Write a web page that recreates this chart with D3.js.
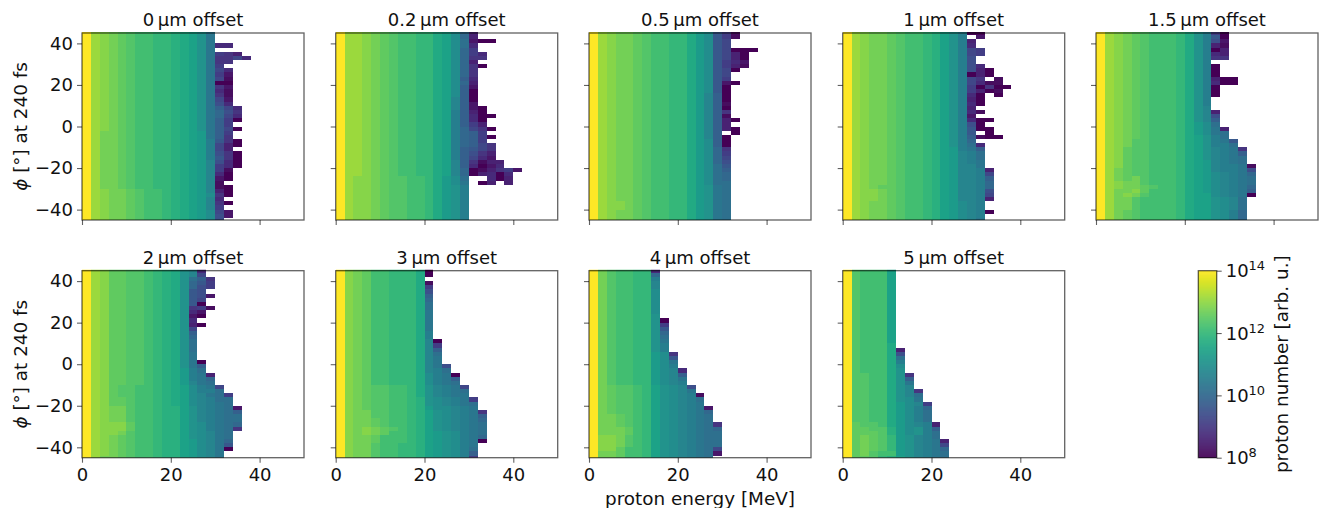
<!DOCTYPE html>
<html><head><meta charset="utf-8">
<script src="https://cdn.jsdelivr.net/npm/d3@7"></script>
<style>html,body{margin:0;background:#fff}svg{display:block}text{font-family:"DejaVu Sans";fill:#111}</style>
</head><body><svg id="c" width="1319" height="508"></svg>
<script>
// Offsets (panel titles)
const offsets = ["0","0.2","0.5","1","1.5","2","3","4","5"];
const xTicks = [0,20,40];
const yTicks = [40,20,0,-20,-40];
const cbTicks = [1e8,1e10,1e12,1e14];
const cbExp = {1e8:"8",1e10:"10",1e12:"12",1e14:"14"};
// Each string is one 2° row (top to bottom); each char one 2 MeV bin.
// char code 0-9a-y -> position on log colour range, "." = no protons.
const panel0 = ["ysrqponnmmlkjhd","ysrqponnmmlkjhd","ysrqponnmmlkjhd","ysrqponnmmlkjhd44","ysrqponnmmlkjhd","ysrqponnmmlkjhd653","ysrqponnmmlkjhd5574","ysrqponnmmlkjhd55","ysrqponnmmlkjhd6","ysrqponnmmlkjhd74","ysrqponnmmlkjhd62","ysrqponnmmlkjhd71","ysrqponnmmlkjhd00","ysrqponnmmlkjhd52","ysrqponnmmlkjhd41","ysrqponnmmlkjhd51","ysrqponnmmlkjhd72","ysrqponnmmlkjhd84","ysrqponnmmlkjhda74","ysrqponnmmlkjhdb85","ysrqponnmmlkjhdb74","ysrqponnmmlkjhda60","ysrqponnmmlkjhda6","ysrqponnmmlkjhda70","ysqqponnmmlkjida6","ysqqponnmmlkjida5","ysqqponnmmlkjie950","ysqqponnmmlkjie730","ysqqponnmmlkjie73","ysqqponnmmlkjie850","ysqqponnmmlkjie950","ysqqponnmmlkjif840","ysqqponnmmlkjif640","ysqqponnmmlkjif61","ysqqponnmmlkjif40","ysqqponnmmlkjif20","ysqqponnmmlkjif1","ysqqponnmmlkjif10","ysrqqponnmlkjif30","ysrqqponnmlkjig50","ysrqqponnmlkjif4","ysrqqponnmlkjif50","ysrqqponnmlkjif6","ysrqqponnmlkjig72","ysrqqponnmlkjig82","ysrqqponnmlkjig8"];
const panel1 = ["yssrqponnmmkjgb3","yssrqponnmmkjgb3","yssrqponnmmkjgc200","yssrqponnmmkjgc4","yssrqponnmmkjgb6","yssrqponnmmkjgb64","yssrqponnmmkjgb55","yssrqponnmmkjgb3","yssrqponnmmkjgb50","yssrqponnmmkjgb5","yssrqponnmmkjgb5","yssrqponnmmkjga4","yssrqponnmmkjgb3","yssrqponnmmkjga2","yssrqponnmmkjga0","yssrqponnmmkjga0","yssrqponnmmkjfa0","yssrqponnmmkjfa2","yssrqponnmmkjfa20","yssrqponnmmkjea30","yssrqponnmmkjea400","yssrqponnmmkjea40","yssrqponnmmkjea63","yssrqponnmmkjeb750","yssrqponnmmkjeba6","yssrqponnmmkjeba60","yssrqponnmmkjeba6","yssrqponnmmkjeba75","yssrqponnmmkjea975","yssrqponnmmkjea853","yssrqponnmmkjea742","yssrqponnmmkjfa5133","yssrqponnmmkjfa4024","yssrqponnmmkjfb013562","yssrqponnmmkjfb03404","ysrrqpoonnmkigc..403","ysrrqpoonnmkigd.03.3","ysrrqpoonnmkihe","ysrrqpoonnmkihe","ysrrqpoonnmkihe","ysrrqpoonnmkihe","ysrrqpoonnmkihe","ysrrqpoonnmkihe","ysrrqpoonnmkihe","ysrrqpoonnmkihe","ysrrqpoonnmkihe"];
const panel2 = ["ysrqqponnmmkig961","ysrqqponnmmkig961","ysrqqponnmmkig97","ysrqqponnmmkig97","ysrqqponnmmkig97000","ysrqqponnmmkig9730","ysrqqponnmmkig9730","ysrqqponnmmkig9642","ysrqqponnmmkig9631","ysrqqponnmmkig970","ysrqqponnmmkig97","ysrqqponnmmkig96","ysrqqponnmmkig920","ysrqqponnmmkig90","ysrqqponnmmkig90","ysrqqponnmmkifa0","ysrqqponnmmkifa0","ysrqqponnmmkifa1","ysrqqponnmmkifa0","ysrqqponnmmkifa5","ysrqqponnmmkifa1","ysrqqponnmmkifa30","ysrqqponnmmkifa3","ysrqqponnmmkifa30","ysrqqponnmmkifa.0","ysrqqponnmmkifa0","ysrqqponnmmkiga0","ysrqqponnmmkiga0","ysrqqponnmmkigb5","ysrqqponnmmkigb6","ysrqqponnmmkigb7","ysrqqponnmmkigb8","ysrqqponnmmkigc9","ysrqqponnmmkigca","ysrqqponnmmkigcb","ysrqqponnmmkigcb","ysrqqponnmmkigcc","ysrqqponnmmkihdc","ysrqqponnmmkihdc","ysrqqponnmmkihdc","ysrqqponnmmkihdc","ysrrqponnmmkihdc","ysrrqponnmmkihdc","ysrqqponnmmkihdc","ysrqqponnmmkihdc","ysrqqponnmmkihdc"];
const panel3 = ["ysrqqponnmljhe00","ysrqqponnmljhe.2","ysrqqponnmljhe3","ysrqqponnmljhe4","ysrqqponnmljhe76","ysrqqponnmljhe76","ysrqqponnmljhe8","ysrqqponnmljhe8","ysrqqponnmljhe84","ysrqqponnmljhe830","ysrqqponnmljhe030","ysrqqponnmljhe75.1","ysrqqponnmljhe7411","ysrqqponnmljhe60500","ysrqqponnmljhe6301","ysrqqponnmljhe40.0","ysrqqponnmljhe30","ysrqqponnmljhe40","ysrqqponnmljhe3","ysrqqponnmljhe41","ysrqqponnmljhe2","ysrqqponnmljhe400","ysrqqponnmljhe80","ysrqqponnmljhe900","ysrqqponnmljhe9.0","ysrqqponnmljhea100","ysrqqponnmljheb","ysrqqponnmljhec4","ysrqqponnmljieda","ysrqqponnmljifec","ysrqqponnmljifec","ysrqqponnmljifed","ysrqqponnmljiffd","ysrqqponnmljiffe3","ysrqqponnmljiffe7","ysrqqponnmljiffea","ysrqqponnmljiffeb","ysrqpponnmljiffeb","ysrrqponnmljiffe8","ysrrqponnmljiffe7","ysrrqponnmljiffe3","ysrqqponnmljigfe","ysrqqponnmljigfe","ysrqqponnmljigfe0","ysrqqponnmljigfe","ysrqqponnmljigfd"];
const panel4 = ["ysrqponnnmkhe60","ysrqponnnmkhe90","ysrqponnnmkhe82","ysrqponnnmkhe31","ysrqponnnmkhe03","ysrqponnnmkhe43","ysrqponnnmkhe55","ysrqponnnmkhe","ysrqponnnmkhe0","ysrqponnnmkhe0","ysrqponnnmkhe0","ysrqponnnmkhe300","ysrqponnnmkhe400","ysrqponnnmkhe0","ysrqponnnmkhe0","ysrqponnnmkhe0","ysrqponnnmkhe","ysrqponnnmkhe","ysrqponnnmkhf","ysrqponnnmkhf3","ysrqponnnmkhf8","ysrqponnnmkhfa","ysrqponnnmkigc","ysrqponnnmkigd3","ysrqponnnmkigdc","ysrqponnnmkjhec","ysrqoonnnmkjhed9","ysrqoonnnmkjheec","ysrpoonnnmkjhfed5","ysrpoonnnmkjhfeda","ysrpoonnnmkjhfedc","ysrpoonnnmkjifedc","ysrpoonnnmkjifeed1","ysqpoonnnmkjifeed8","ysqpoonnnmkjigfedb","ysqpqonnnmkjigfedc","ysrqqonnnmkjigfedc","ysrqqponnmkjigfedb","ysqqrpnnnmkjigfeda","ysqrqonnnmkjjgfed0","ysqqonnnnmkjjhgfc","ysqqonnnnmkjjhgfc","ysqqonnnnmkjjhgfc","ysqponnnnmkjjhgeb","ysqponnnnmkjjhgeb","ysqponnnnmkjjhgeb"];
const panel5 = ["ysrppoonmlkhf4","ysrppoonmlkhf7","ysrppoonmlkhca5","ysrppoonmlkhb96","ysrppoonmlkhb86","ysrppoonmlkh98","ysrppoonmlkh982","ysrppoonmlkh97","ysrppoonmlkh90","ysrppoonmlkh561","ysrppoonmlkh42","ysrppoonmlkh20","ysrppoonmlkh4","ysrppoonmlkh30","ysrppoonmlkh7","ysrppoonmlkha","ysrppoonmlkhb","ysrppoonmlkhc","ysrppoonmlkhc","ysrppoonmlkhc","ysrppoonmlkhd","ysrppoonmlkhd","ysrppoonmlkhd0","ysrppoonmlkhda","ysrppoonmlkiec","ysrppoonmlkied3","ysrppoonmlkiedb","ysrppoonmlkifdc","ysrpoonnmlkjged7","ysrpoonnmlkjgeec","ysrpoonnmlkjgfdc6","ysrpponnmlkjgfecc","ysrpponnmlkjgfedc","ysrqqonnmlljhfedc2","ysrqqonnmlljhfedca","ysrqqonnmlljhfedcc","ysrqqonnmlljhfedcc","ysrrrpnnmlljhgedcb","ysrrrpnnmlljhgedc5","ysrrqonnmlljhgfdc","ysrqponnmlljhgfdc","ysrqponnmlljigfdb","ysrqponnmlljigfd9","ysrqponnmlljigfd0","ysrqponnmlljigfd","ysqqponnmlljigfd"];
const panel6 = ["yrqpnnmmmk0","yrqpnnmmmk0","yrqpnnmmmk","yrqpnnmmmk1","yrqpnnmmmk6","yrqpnnmmmk8","yrqpnnmmmka","yrqpnnmmmkb","yrqpnnmmmkc","yrqpnnmmmkc","yrqpnnmmmkd","yrqpnnmmmkd","yrqpnnmmmkd","yrqpnnmmmkd","yrqpnnmmmkd","yrqpnnmmmke","yrqpnnmmmke","yrqpnnmmmkf0","yrqpnnmmmkf6","yrqpnnmmmkfa","yrqpnnmmmkfc","yrqpnnmmmkfd","yrqpnnmmmkfd","yrqpnnmmmkfd8","yrqpnnmmmkfec","yrqpnnmmmkged0","yrqpnnmmmkgeda","yrqpnnmmmkgedc","yrqpoonnmkhfed7","yrqpoonnmkhfedc","yrqpoonnmkhfedd","yrqpoonnmlhgfed6","yrqpoonnmlhgfedc","yrqpoonnmliggfed","yrqqoonnmljhgfed5","yrqqoonnmljhgfeda","yrqqponnmljhgfedb","yrqqponnmljhgfedc","yrqrqponmljhgfedc","yrqrqpnnmljihgedc","yrqqpnnnmljihgedb","yrqqpnnnmljihged0","yrqqonnmmljihged","yrqqonnmmljihgec","yrqqonnmmljihgea","yrqqonnmmljihge6"];
const panel7 = ["yqonnmm4","yqonnmmb","yqonnmme","yqonnmmf","yqonnmmf","yqonnmmg","yqonnmmg","yqonnmmg","yqonnmmg","yqonnmmg","yqonnmmg","yqonnmmh","yqonnmmh0","yqonnmmh6","yqonnmmh9","yqonnmmhb","yqonnmmhc","yqonnmmhd","yqonnmmhe","yqonnmmhe","yqonnmmig5","yqonnmmig9","yqonnmmigd","yqonnmmige","yqonnmmigf4","yqonnmmigfa","yqonnmmigfd","yqonnmmigfe","yqpoonmjhgf8","yqpoonmjhgfd","yqpoonmjhgfe1","yqpoonmjhgfec","yqpoonmjhgfed","yqpoonmjhgfed2","yqpoonmjhgfedb","yqqponmjhgfedc","yqqponmjhgfedc","yqqponmjhgfedc5","yqqqpnmjhgfedcb","yqqqpnmjhgfedcc","yrrqonmjhgfedcc","yrrqonmjhgfedcc","yrrqonmjhgfedcc","yrrpnnmjhgfedc7","yqqpnnmjhgfedc2","yqqpnnmjhgfedc"];
const panel8 = ["xonnnj","xonnnj","xonnnj","xonnnj","xonnnj","xonnnj","xonnnj","xonnnj","xonnnj","xonnnj","xonnnj","xonnnj","xonnnj","xonnnj","xonnnj","xonnnj","xonnnj","xonnnj","xonnnk","xonnnk3","xonnnk8","xonnnkc","xonnnke","xonnnkg","xonnnkh","xoonnkh5","xoonnkha","xoonnkhd","xoonnkhf","xoonnkhf5","xoonnkhfc","xoonnkhgd","xoonnkigf6","xoonnkigeb","xoonnkigec","xoonnkigec","xoonnkigec","xpoonkigfe3","xppoolighea","xpppolighec","xpqpomihfec","xpqpomihfed3","xpqpomihfed7","xpqpomihfedb","xpqonnihfedc","xppomljhfedc"];
const panels = [panel0,panel1,panel2,panel3,panel4,panel5,panel6,panel7,panel8];

const codes = "0123456789abcdefghijklmnopqrstuvwxy";
const svg = d3.select("#c");
const color = d3.scaleSequentialLog(d3.interpolateViridis).domain([1e8,1e14]).clamp(true);
const panelX = [82,335.7,589,842.7,1096];
const rowY = [33,270.7];
const W = 222, H = 187;
const x = d3.scaleLinear().domain([0,50]).range([0,W]);
const y = d3.scaleLinear().domain([-45,45]).range([H,0]);
const FS = 18, LFS = 18.4, LW = 1.1, FRAME = "rgba(0,0,0,.62)";

const defs = svg.append("defs");
defs.append("clipPath").attr("id","pc").append("rect")
  .attr("x",0).attr("y",-1).attr("width",W).attr("height",H+1);
defs.append("filter").attr("id","soft").attr("x","-5%").attr("y","-5%").attr("width","110%").attr("height","110%")
  .append("feGaussianBlur").attr("stdDeviation",0.45);

panels.forEach((rows,p)=>{
  const col = p%5, row = p<5?0:1;
  const g = svg.append("g").attr("transform",`translate(${panelX[col]},${rowY[row]})`);
  const cells = [];
  rows.forEach((s,k)=>{ for(let j=0;j<s.length;j++){ if(s[j]==="." ) continue;
    cells.push({top:46-2*k, bot:44-2*k, e0:2*j, e1:2*j+2, v:Math.pow(10,8+6*codes.indexOf(s[j])/33)}); }});
  g.append("g").attr("clip-path","url(#pc)").append("g").attr("filter","url(#soft)")
    .selectAll("rect").data(cells).join("rect")
    .attr("x",d=>x(d.e0)).attr("width",d=>x(d.e1)-x(d.e0))
    .attr("y",d=>y(d.top)).attr("height",d=>y(d.bot)-y(d.top))
    .attr("fill",d=>color(d.v)).attr("shape-rendering","crispEdges");
  g.append("rect").attr("width",W).attr("height",H).attr("fill","none")
    .attr("stroke",FRAME).attr("stroke-width",1.3);
  const ax = d3.axisBottom(x).tickValues(xTicks).tickSize(5).tickPadding(6);
  if(row===0) ax.tickFormat("");
  const gx = g.append("g").attr("transform",`translate(0,${H})`).call(ax);
  const ay = d3.axisLeft(y).tickValues(yTicks).tickSize(5).tickPadding(4);
  if(col!==0) ay.tickFormat("");
  const gy = g.append("g").call(ay);
  [gx,gy].forEach(a=>{ a.select(".domain").remove();
    a.selectAll("line").attr("stroke",FRAME).attr("stroke-width",LW);
    a.selectAll("text").attr("font-size",FS).attr("font-family","DejaVu Sans").attr("fill","#111"); });
  g.append("text").attr("x",W/2).attr("y",-7).attr("text-anchor","middle").attr("font-size",FS)
    .text(`${offsets[p]}\u2009µm offset`);
});

// y labels
rowY.forEach(ty=>{
  const t = svg.append("text").attr("transform",`translate(27,${ty+H/2}) rotate(-90)`)
    .attr("text-anchor","middle").attr("font-size",LFS);
  t.append("tspan").attr("font-style","italic").text("ϕ");
  t.append("tspan").text(" [°] at 240 fs");
});
svg.append("text").attr("x",700).attr("y",504.5).attr("text-anchor","middle").attr("font-size",LFS).text("proton energy [MeV]");

// colorbar
const cbx=1198.3, cby=270.7, cbw=18.4, cbh=187;
const cs = d3.scaleLog().domain([1e8,1e14]).range([cbh,0]);
const cg = svg.append("g").attr("transform",`translate(${cbx},${cby})`);
const ramp = d3.range(0,cbh,1);
cg.selectAll("rect.r").data(ramp).join("rect").attr("class","r").attr("x",0).attr("width",cbw)
  .attr("y",d=>d).attr("height",1.2).attr("fill",d=>color(cs.invert(d+.5)));
cg.append("rect").attr("width",cbw).attr("height",cbh).attr("fill","none").attr("stroke",FRAME).attr("stroke-width",1.3);
const cax = cg.append("g").attr("transform",`translate(${cbw},0)`)
  .call(d3.axisRight(cs).tickValues(cbTicks).tickSize(5).tickFormat(""));
cax.select(".domain").remove();
cax.selectAll("line").attr("stroke",FRAME).attr("stroke-width",LW);
cbTicks.forEach(v=>{
  const t = cg.append("text").attr("x",cbw+9).attr("y",cs(v)+6.5).attr("font-size",FS);
  t.append("tspan").text("10");
  t.append("tspan").attr("dy",-7).attr("font-size",FS*0.72).text(cbExp[v]);
});
svg.append("text").attr("transform",`translate(1288,${cby+cbh/2}) rotate(-90)`)
  .attr("text-anchor","middle").attr("font-size",LFS).text("proton number [arb. u.]");
</script></body></html>
